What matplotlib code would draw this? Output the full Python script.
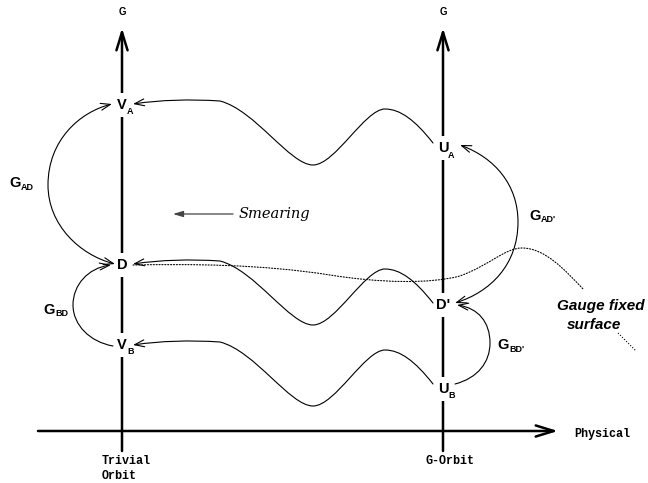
import matplotlib
matplotlib.use('Agg')
import matplotlib.pyplot as plt
from matplotlib.patches import FancyArrowPatch
from matplotlib.path import Path

# picture is laid out in pixel units (y grows downward)
W, H = 648, 483
LEFT_X, RIGHT_X = 122, 443
BASE_Y = 431

# orbit points on the two G axes: label, subscript, y
left_names = ['V', 'D', 'V']
left_subs = ['A', '', 'B']
left_y = [105, 265, 345]
right_names = ['U', "D'", 'U']
right_subs = ['A', '', 'B']
right_y = [148, 305, 389]

# one wavy path (cubic bezier, U -> V), repeated at three heights
wave_x = [433, 415, 400, 385, 365, 335, 313, 290, 255, 220, 190, 160, 133]
wave_y = [143, 120, 109, 109, 109, 165, 165, 165, 110, 101, 99, 100, 104]
wave_shift = [0, 160, 241]

# gauge fixed surface (dotted), bezier control points
gauge_x = [133, 190, 260, 330, 380, 430, 460, 490, 505, 522, 545, 565, 584]
gauge_y = [265, 264, 264, 275, 283, 284, 276, 265, 248, 248, 248, 270, 290]
gauge_tail_x = [618, 636]
gauge_tail_y = [333, 351]

# group-action arcs: control points, arrow style, label
arcs = [
    dict(x=[112, 80, 48, 48, 48, 80, 115], y=[104, 112, 140, 185, 225, 255, 264],
         style='<->', label='G', sub='AD', lx=15, ly=183),
    dict(x=[113, 90, 73, 73, 73, 88, 111], y=[346, 342, 325, 305, 285, 268, 265],
         style='->', label='G', sub='BD', lx=49, ly=310),
    dict(x=[460, 495, 518, 518, 518, 490, 455], y=[145, 158, 185, 222, 265, 292, 303],
         style='<->', label='G', sub="AD'", lx=535, ly=216),
    dict(x=[455, 478, 490, 490, 490, 478, 457], y=[384, 378, 362, 343, 322, 308, 305],
         style='->', label='G', sub="BD'", lx=503, ly=345),
]

SANS = 'Liberation Sans'
MONO = 'Liberation Mono'


def bezier_path(xs, ys):
    verts = list(zip(xs, ys))
    codes = [Path.MOVETO] + [Path.CURVE4] * (len(verts) - 1)
    return Path(verts, codes)


def curve_arrow(ax, xs, ys, style, lw=0.8, ls='-', z=3):
    head = style + ',head_length=0.7,head_width=0.25' if '>' in style else style
    p = FancyArrowPatch(path=bezier_path(xs, ys), arrowstyle=head,
                        mutation_scale=10, lw=lw, color='black',
                        linestyle=ls, zorder=z, shrinkA=0, shrinkB=0)
    ax.add_patch(p)


def node_label(ax, x, y, name, sub):
    box = dict(facecolor='white', edgecolor='none', pad=3.5)
    ax.text(x, y, name, ha='center', va='center', fontsize=10.5,
            fontweight='bold', family=SANS, bbox=box, zorder=2)
    if sub:
        ax.text(x + 5, y + 7, sub, ha='left', va='center', fontsize=6.5,
                fontweight='bold', family=SANS, zorder=2)


fig = plt.figure(figsize=(W / 100, H / 100), dpi=100)
ax = fig.add_axes([0, 0, 1, 1])
ax.set_xlim(0, W)
ax.set_ylim(H, 0)
ax.axis('off')

axis_head = '->,head_length=1.3,head_width=0.4'
# the two G axes and the physical axis
for x in [LEFT_X, RIGHT_X]:
    ax.add_patch(FancyArrowPatch((x, 451), (x, 28), arrowstyle=axis_head,
                                 mutation_scale=10, lw=1.8, color='black',
                                 shrinkA=0, shrinkB=0, zorder=1))
    ax.text(x, 12, 'G', ha='center', va='center', fontsize=7,
            fontweight='bold', family=SANS)
ax.add_patch(FancyArrowPatch((38, BASE_Y), (558, BASE_Y), arrowstyle=axis_head,
                             mutation_scale=10, lw=1.8, color='black',
                             shrinkA=0, shrinkB=0, zorder=1))
ax.text(574, 434, 'Physical', ha='left', va='center', fontsize=8.5,
        fontweight='bold', family=MONO)
ax.text(102, 461, 'Trivial', ha='left', va='center', fontsize=8.5,
        fontweight='bold', family=MONO)
ax.text(102, 476, 'Orbit', ha='left', va='center', fontsize=8.5,
        fontweight='bold', family=MONO)
ax.text(425, 461, 'G-Orbit', ha='left', va='center', fontsize=8.5,
        fontweight='bold', family=MONO)

for n, s, y in zip(left_names, left_subs, left_y):
    node_label(ax, LEFT_X, y, n, s)
for n, s, y in zip(right_names, right_subs, right_y):
    node_label(ax, RIGHT_X, y, n, s)

# wavy paths from U orbit points back to V points
for dy in wave_shift:
    curve_arrow(ax, wave_x, [v + dy for v in wave_y], '->')

# gauge fixed surface
ax.add_patch(FancyArrowPatch(path=bezier_path(gauge_x, gauge_y), arrowstyle='-',
                             lw=0.8, color='black', linestyle=(0, (1, 1.6)),
                             zorder=3))
ax.plot(gauge_tail_x, gauge_tail_y, color='black', lw=0.8,
        linestyle=(0, (1, 1.6)))

for a in arcs:
    curve_arrow(ax, a['x'], a['y'], a['style'])
    ax.text(a['lx'], a['ly'], a['label'], ha='center', va='center',
            fontsize=10.5, fontweight='bold', family=SANS)
    ax.text(a['lx'] + 6, a['ly'] + 4, a['sub'], ha='left', va='center',
            fontsize=6.5, fontweight='bold', family=SANS)

# smearing arrow and text
ax.add_patch(FancyArrowPatch((233, 214), (173, 214),
                             arrowstyle='-|>,head_length=0.6,head_width=0.18',
                             mutation_scale=10, lw=0.9, color='#444444',
                             shrinkA=0, shrinkB=0))
ax.text(239, 214, 'Smearing', ha='left', va='center', fontsize=10.5,
        style='italic', family='DejaVu Serif')

ax.text(601, 306, 'Gauge fixed', ha='center', va='center', fontsize=11,
        fontweight='bold', style='italic', family=SANS)
ax.text(594, 325, 'surface', ha='center', va='center', fontsize=11,
        fontweight='bold', style='italic', family=SANS)

fig.savefig('out.png', dpi=100)
